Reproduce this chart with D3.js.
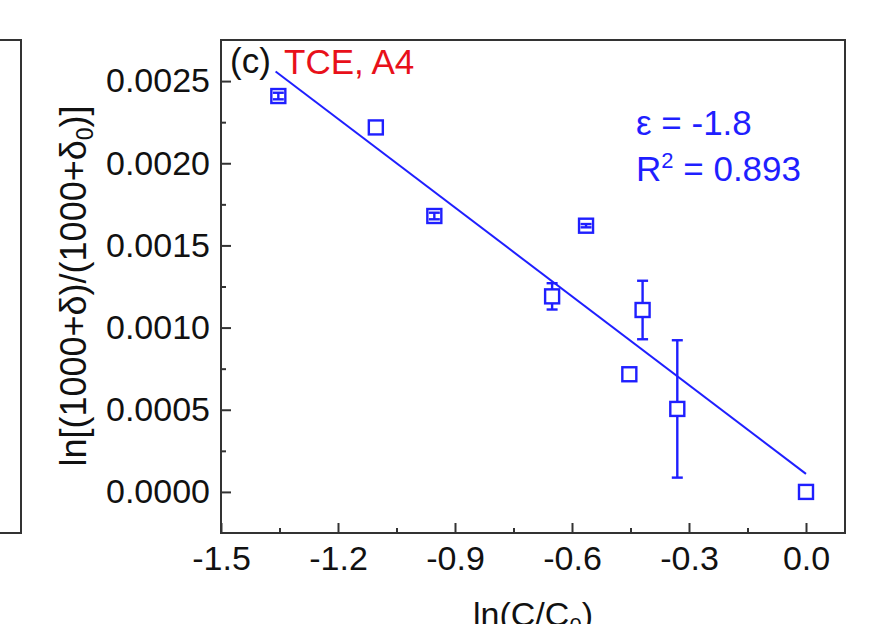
<!DOCTYPE html>
<html>
<head>
<meta charset="utf-8">
<script src="https://cdn.jsdelivr.net/npm/d3@7"></script>
<style>
  html, body { margin: 0; padding: 0; background: #fff; }
  svg { display: block; }
  text { font-family: "Liberation Sans", Arial, Helvetica, sans-serif; }
</style>
</head>
<body>
<svg id="chart" width="873" height="624"></svg>
<script>
// ---- data ----
const lnC      = [-1.353, -1.103, -0.953, -0.651, -0.564, -0.419, -0.453, -0.330, 0.0];
const lnDelta  = [0.002409, 0.002218, 0.001679, 0.001190, 0.001620, 0.001107, 0.000716, 0.000505, 0.0];
const lnDeltaErr = [0.00002, 0, 0.00002, 0.00008, 0.00001, 0.000178, 0, 0.000418, 0];
const fitSlope = -0.00180;
const fitIntercept = 0.000110;
const fitRange = [-1.36, 0.0];
const xTicks = [-1.5, -1.2, -0.9, -0.6, -0.3, 0.0];
const xMinorTicks = [-1.35, -1.05, -0.75, -0.45, -0.15];
const yTicks = [0.0, 0.0005, 0.0010, 0.0015, 0.0020, 0.0025];
const yMinorTicks = [0.00025, 0.00075, 0.00125, 0.00175, 0.00225];
const epsText = "ε = -1.8";
const r2Value = "0.893";

// ---- layout ----
const svg = d3.select("#chart");
const L = 221, R = 845, T = 40, B = 533;
const x = d3.scaleLinear().domain([-1.5, 0.1]).range([L, R]);
const y = d3.scaleLinear().domain([-0.00025, 0.00275]).range([B, T]);
const axisColor = "#333";
const blue = "#1f1fff";
const fs = 34;

// neighbouring panel edge (left)
svg.append("rect").attr("x", -10).attr("y", T).attr("width", 31).attr("height", B - T)
  .attr("fill", "none").attr("stroke", axisColor).attr("stroke-width", 2);

// x axis
const gx = svg.append("g").attr("transform", `translate(0,${B})`)
  .call(d3.axisBottom(x).tickValues(xTicks).tickSizeInner(-10).tickSizeOuter(0).tickPadding(13)
    .tickFormat(d3.format(".1f")));
svg.append("g").attr("transform", `translate(0,${B})`)
  .call(d3.axisBottom(x).tickValues(xMinorTicks).tickSizeInner(-5).tickSizeOuter(0).tickFormat(""))
  .select(".domain").remove();

// y axis
const gy = svg.append("g").attr("transform", `translate(${L},0)`)
  .call(d3.axisLeft(y).tickValues(yTicks).tickSizeInner(-10).tickSizeOuter(0).tickPadding(11)
    .tickFormat(d3.format(".4f")));
svg.append("g").attr("transform", `translate(${L},0)`)
  .call(d3.axisLeft(y).tickValues(yMinorTicks).tickSizeInner(-5).tickSizeOuter(0).tickFormat(""))
  .select(".domain").remove();

svg.selectAll(".tick line").attr("stroke", axisColor).attr("stroke-width", 2);
svg.selectAll(".domain").attr("stroke", axisColor);
svg.selectAll(".tick text").attr("font-size", fs).attr("fill", "#111")
  .style("font-family", '"Liberation Sans", Arial, sans-serif');
gx.selectAll(".tick text").text(d => d < 0 ? "-" + d3.format(".1f")(-d) : d3.format(".1f")(d));

// frame
svg.append("rect").attr("x", L).attr("y", T).attr("width", R - L).attr("height", B - T)
  .attr("fill", "none").attr("stroke", axisColor).attr("stroke-width", 2);

// fit line
svg.append("line")
  .attr("x1", x(fitRange[0])).attr("y1", y(fitIntercept + fitSlope * fitRange[0]))
  .attr("x2", x(fitRange[1])).attr("y2", y(fitIntercept + fitSlope * fitRange[1]))
  .attr("stroke", blue).attr("stroke-width", 2);

// points with error bars
const pts = lnC.map((v, i) => ({ x: v, y: lnDelta[i], e: lnDeltaErr[i] }));
const capW = 11, box = 14, sw = 2.4;
const gp = svg.append("g");
pts.forEach(p => {
  const cx = x(p.x), cy = y(p.y);
  if (p.e > 0) {
    const y1 = y(p.y + p.e), y2 = y(p.y - p.e);
    gp.append("line").attr("x1", cx).attr("x2", cx).attr("y1", y1).attr("y2", y2)
      .attr("stroke", blue).attr("stroke-width", sw);
    [y1, y2].forEach(yy => gp.append("line").attr("x1", cx - capW / 2).attr("x2", cx + capW / 2)
      .attr("y1", yy).attr("y2", yy).attr("stroke", blue).attr("stroke-width", sw));
  }
  gp.append("rect").attr("x", cx - box / 2).attr("y", cy - box / 2).attr("width", box).attr("height", box)
    .attr("fill", p.e > 0.00005 ? "#fff" : "none").attr("stroke", blue).attr("stroke-width", sw);
});

// panel title
svg.append("text").attr("x", 230).attr("y", 73).attr("font-size", 35).attr("fill", "#111").text("(c)");
svg.append("text").attr("x", 284).attr("y", 74).attr("font-size", 35).attr("fill", "#e8101a").text("TCE, A4");

// annotations
svg.append("text").attr("x", 636).attr("y", 135).attr("font-size", 35).attr("fill", blue).text(epsText);
const r2 = svg.append("text").attr("x", 636).attr("y", 181).attr("font-size", 35).attr("fill", blue);
r2.append("tspan").text("R");
r2.append("tspan").attr("font-size", 22).attr("dy", -13).text("2");
r2.append("tspan").attr("dy", 13).text(" = " + r2Value);

// axis titles
const yl = svg.append("text").attr("transform", "translate(86,286) rotate(-90)")
  .attr("text-anchor", "middle").attr("font-size", 36).attr("fill", "#111");
yl.append("tspan").text("ln[(1000+δ)/(1000+δ");
yl.append("tspan").attr("font-size", 23).attr("dy", 7).text("0");
yl.append("tspan").attr("dy", -7).text(")]");

const xl = svg.append("text").attr("x", 533).attr("y", 626).attr("text-anchor", "middle")
  .attr("font-size", fs).attr("fill", "#111");
xl.append("tspan").text("ln(C/C");
xl.append("tspan").attr("font-size", 22).attr("dy", 7).text("0");
xl.append("tspan").attr("dy", -7).text(")");
</script>
</body>
</html>
